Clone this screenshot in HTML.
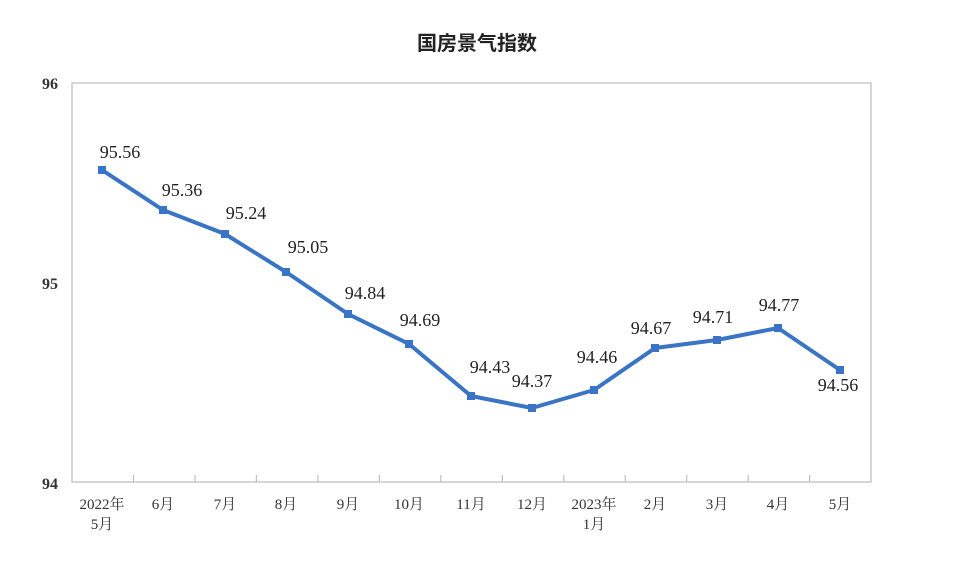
<!DOCTYPE html>
<html><head><meta charset="utf-8"><style>
html,body{margin:0;padding:0;background:#fff;width:954px;height:562px;overflow:hidden}
svg{display:block}
</style></head><body>
<svg width="954" height="562" xmlns="http://www.w3.org/2000/svg">
<text x="477" y="50" text-anchor="middle" font-family="'Liberation Sans','Noto Sans CJK SC',sans-serif" font-size="20" font-weight="bold" fill="#222">国房景气指数</text>
<rect x="72" y="83" width="799" height="399" fill="none" stroke="#c8c8c8" stroke-width="1.5"/>
<g stroke="#c0c0c0" stroke-width="1.2">
<line x1="133.5" y1="482" x2="133.5" y2="475"/><line x1="195" y1="482" x2="195" y2="475"/><line x1="256.4" y1="482" x2="256.4" y2="475"/><line x1="317.9" y1="482" x2="317.9" y2="475"/><line x1="379.4" y1="482" x2="379.4" y2="475"/><line x1="440.8" y1="482" x2="440.8" y2="475"/><line x1="502.3" y1="482" x2="502.3" y2="475"/><line x1="563.8" y1="482" x2="563.8" y2="475"/><line x1="625.2" y1="482" x2="625.2" y2="475"/><line x1="686.7" y1="482" x2="686.7" y2="475"/><line x1="748.2" y1="482" x2="748.2" y2="475"/><line x1="809.6" y1="482" x2="809.6" y2="475"/>
</g>
<g font-family="'Liberation Serif',serif" font-size="16" font-weight="bold" fill="#333" text-anchor="end">
<text x="58" y="89">96</text><text x="58" y="289">95</text><text x="58" y="489">94</text>
</g>
<g font-family="'Liberation Serif','Noto Serif CJK SC',serif" font-size="15" fill="#333" text-anchor="middle">
<text x="102" y="509">2022年</text><text x="102" y="529">5月</text>
<text x="163" y="509">6月</text><text x="225" y="509">7月</text><text x="286" y="509">8月</text><text x="348" y="509">9月</text><text x="409" y="509">10月</text><text x="471" y="509">11月</text><text x="532" y="509">12月</text>
<text x="594" y="509">2023年</text><text x="594" y="529">1月</text>
<text x="655" y="509">2月</text><text x="717" y="509">3月</text><text x="778" y="509">4月</text><text x="840" y="509">5月</text>
</g>
<polyline fill="none" stroke="#3a74c4" stroke-width="4" stroke-linejoin="round" points="102,170 163,210 225,234 286,272 348,314 409,344 471,396 532,408 594,390 655,348 717,340 778,328 840,370"/>
<g fill="#3a74c4">
<rect x="98" y="166" width="8" height="8"/><rect x="159" y="206" width="8" height="8"/><rect x="221" y="230" width="8" height="8"/><rect x="282" y="268" width="8" height="8"/><rect x="344" y="310" width="8" height="8"/><rect x="405" y="340" width="8" height="8"/><rect x="467" y="392" width="8" height="8"/><rect x="528" y="404" width="8" height="8"/><rect x="590" y="386" width="8" height="8"/><rect x="651" y="344" width="8" height="8"/><rect x="713" y="336" width="8" height="8"/><rect x="774" y="324" width="8" height="8"/><rect x="836" y="366" width="8" height="8"/>
</g>
<g font-family="'Liberation Serif',serif" font-size="18" fill="#222" text-anchor="middle">
<text x="120" y="158">95.56</text><text x="182" y="196">95.36</text><text x="246" y="219">95.24</text><text x="308" y="253">95.05</text><text x="365" y="299">94.84</text><text x="420" y="326">94.69</text><text x="490" y="373">94.43</text><text x="532" y="387">94.37</text><text x="597" y="363">94.46</text><text x="651" y="334">94.67</text><text x="713" y="323">94.71</text><text x="779" y="311">94.77</text><text x="838" y="391">94.56</text>
</g>
</svg>
</body></html>
